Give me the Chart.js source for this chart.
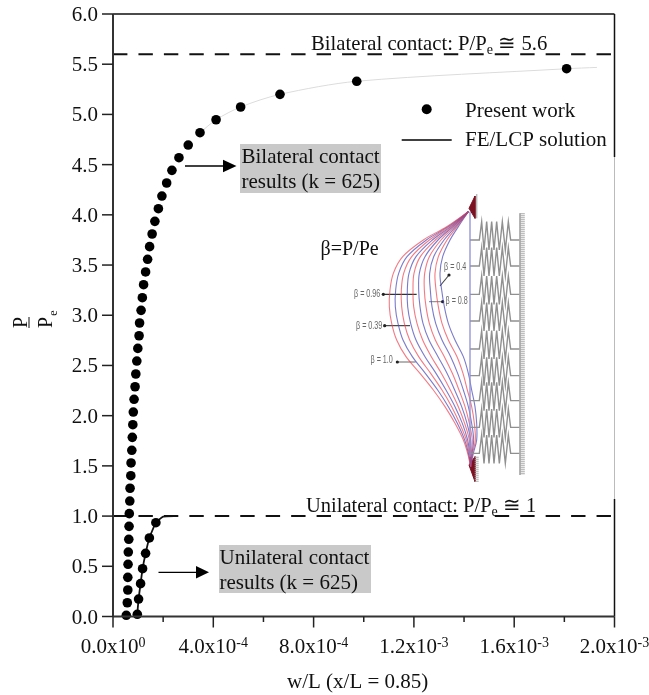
<!DOCTYPE html>
<html><head><meta charset="utf-8">
<style>html,body{margin:0;padding:0;background:#fff}canvas{display:block}</style>
<script src="https://cdn.jsdelivr.net/npm/chart.js@4"></script></head>
<body><canvas id="c" width="649" height="695"></canvas>
<script>
// ---- main chart data
const xTickLabels = ["0.0x10^0","","4.0x10^-4","","8.0x10^-4","","1.2x10^-3","","1.6x10^-3","","2.0x10^-3"];
const yTickLabels = ["0.0","0.5","1.0","1.5","2.0","2.5","3.0","3.5","4.0","4.5","5.0","5.5","6.0"];
const bilateralX = [5.3e-5,5.7e-5,5.9e-5,5.9e-5,6.0e-5,6.1e-5,6.3e-5,6.4e-5,6.5e-5,6.7e-5,6.8e-5,7.1e-5,7.2e-5,7.5e-5,7.7e-5,7.9e-5,8.1e-5,8.4e-5,8.8e-5,
  9.1e-5,9.5e-5,9.9e-5,1.04e-4,1.06e-4,1.12e-4,1.17e-4,1.22e-4,1.30e-4,1.38e-4,1.46e-4,1.56e-4,1.67e-4,1.81e-4,1.95e-4,2.14e-4,2.35e-4,2.63e-4,3.00e-4,3.47e-4,
  4.11e-4,5.09e-4,6.66e-4,9.72e-4,1.809e-3];
const bilateralY = [0.012,0.137,0.264,0.390,0.520,0.642,0.769,0.898,1.024,1.150,1.277,1.402,1.529,1.655,1.784,1.910,2.036,2.163,2.288,
  2.415,2.544,2.670,2.796,2.923,3.049,3.175,3.304,3.431,3.557,3.683,3.809,3.935,4.061,4.187,4.317,4.443,4.569,4.695,4.818,
  4.947,5.074,5.200,5.330,5.455];
const unilateralX = [9.7e-5,1.02e-4,1.10e-4,1.18e-4,1.30e-4,1.45e-4,1.71e-4];
const unilateralY = [0.022,0.174,0.327,0.476,0.629,0.782,0.934];
const feBilateralX = [3.47e-4,4.11e-4,5.09e-4,6.66e-4,9.72e-4,1.809e-3,1.93e-3];
const feBilateralY = [4.818,4.947,5.074,5.200,5.330,5.455,5.468];
const feUnilateralX = [9.6e-5,1.02e-4,1.10e-4,1.18e-4,1.30e-4,1.45e-4,1.71e-4,2.0e-4,2.54e-4];
const feUnilateralY = [0.0,0.174,0.327,0.476,0.629,0.782,0.934,0.994,1.0];
const bilateralLimit = 5.6, unilateralLimit = 1.0;

// ---- inset figure (in the figure's own units)
const insetLevels = [65,110,150,200,250,300,350,400,450,500,550,600,650,700,750,790,830];
const insetCurves = [
 [505,440,370,308,280,270,268,275,290,318,360,400,435,465,490,503,512],
 [505,444,379,321,296,287,286,294,309,337,376,413,445,472,494,505,512],
 [505,448,388,335,311,304,305,313,329,356,392,426,455,479,499,507,512],
 [505,452,397,348,327,322,323,332,348,375,408,438,465,487,503,509,512],
 [505,456,406,361,342,339,341,351,368,394,424,451,475,494,508,510,512],
 [505,459,414,375,358,356,360,369,387,414,441,464,485,501,512,512,512],
 [505,463,423,388,374,373,378,388,406,433,457,477,495,508,517,514,512],
 [505,467,432,401,389,391,396,407,426,452,473,490,505,515,521,516,512],
 [505,471,441,415,405,408,415,426,445,471,489,502,515,523,526,518,512],
 [505,475,450,428,420,425,433,445,465,490,505,515,525,530,530,520,512]];
const springRows = [150,228,313,393,477,557,632,712,790];
const springX = [510,538,545,552,560,567,575,582,590,598,607,616,625,632,660];
const springDy = [0,0,-55,30,-55,30,-55,30,-55,30,-55,30,-55,0,0];
const leaders = [[[350,313],[250,313]],[[330,407],[254,407]],[[347,516],[292,516]],[[387,335],[428,335]],[[420,288],[447,255]]];
const leaderColors = ['#333','#333','#777','#888','#444'];

const pts = (xs,ys)=>xs.map((x,i)=>({x,y:ys[i]}));
const insetDs = (data,color,width,extra)=>Object.assign({type:'line',data,xAxisID:'insetX',yAxisID:'insetY',borderColor:color,backgroundColor:color,borderWidth:width,pointRadius:0,fill:false,order:10,clip:false},extra||{});

const datasets = [];
// wall, beam, springs
datasets.push(insetDs(pts([667,667],[70,855]),'#a8a8a8',5,{borderDash:[1,1]}));
datasets.push(insetDs(pts([660,660],[70,855]),'#aaa',1));
datasets.push(insetDs(pts([530,530],[12,85]),'#bbb',1.5));
datasets.push(insetDs(pts([530,530],[800,875]),'#aaa',4,{borderDash:[1,1]}));
datasets.push(insetDs(pts([510,510],[65,800]),'#8f8fd6',1.3));
springRows.forEach(r=>datasets.push(insetDs(pts(springX,springDy.map(d=>r+d)),'#909090',1.4)));
insetCurves.forEach((c,i)=>datasets.push(insetDs(pts(c,insetLevels),i%2?'rgba(70,70,185,.72)':'rgba(238,70,85,.72)',1.1,{tension:.35})));
// pin triangles
datasets.push(insetDs(pts([525,525,507,525],[18,85,55,18]),'#7a1020',1,{fill:'shape'}));
datasets.push(insetDs(pts([525,525,507,525],[800,875,825,800]),'#7a1020',1,{fill:'shape'}));
leaders.forEach((l,i)=>datasets.push(insetDs(l.map(p=>({x:p[0],y:p[1]})),leaderColors[i],1.1,{pointRadius:[0,1.6],pointBackgroundColor:'#222',pointBorderWidth:0})));
// main marks
const mainDs = (data,extra)=>Object.assign({type:'line',data,xAxisID:'x',yAxisID:'y',fill:false,pointRadius:0,borderWidth:1,clip:false},extra);
datasets.push(mainDs(pts([0,2e-3],[bilateralLimit,bilateralLimit]),{label:'Bilateral limit',borderColor:'#111',borderWidth:2,borderDash:[14.4,11.05],order:5}));
datasets.push(mainDs(pts([0,2e-3],[unilateralLimit,unilateralLimit]),{label:'Unilateral limit',borderColor:'#111',borderWidth:2,borderDash:[14.4,11.05],order:5}));
datasets.push(mainDs(pts(feBilateralX,feBilateralY),{label:'FE/LCP solution',borderColor:'#dcdcdc',borderWidth:1,tension:.3,order:4}));
datasets.push(mainDs(pts(feUnilateralX,feUnilateralY),{label:'FE/LCP solution',borderColor:'#111',borderWidth:1.8,tension:.15,order:3}));
datasets.push(mainDs(pts(bilateralX,bilateralY),{label:'Present work',showLine:false,pointRadius:4.8,pointBackgroundColor:'#000',pointBorderWidth:0,order:1}));
datasets.push(mainDs(pts(unilateralX,unilateralY),{label:'Present work',showLine:false,pointRadius:4.8,pointBackgroundColor:'#000',pointBorderWidth:0,order:1}));

const SERIF = '"Liberation Serif"';
function sub(ctx,x,y,parts,size){ // parts: [text, isSub]
  ctx.textAlign='left';ctx.textBaseline='alphabetic';
  parts.forEach(([t,s])=>{
    ctx.font=(s?size*0.68:size)+'px '+SERIF;
    ctx.fillText(t,x,y+(s?4:0));
    x+=ctx.measureText(t).width;
  });
}
const overlay = {
  id:'overlay',
  beforeDraw(chart){
    const ys=chart.scales.y, xs=chart.scales.x;
    // y labels sit slightly lower than the canvas "middle" baseline
    if(!ys._patched){
      const orig=ys.drawLabels.bind(ys);
      ys.drawLabels=function(a){const c=chart.ctx;c.save();c.translate(0,1.5);orig(a);c.restore();};
      ys._patched=true;
    }
    // x labels carry a raised exponent
    if(!xs._patched){
      xs.drawLabels=function(){
        const c=chart.ctx;c.save();c.fillStyle='#111';c.textBaseline='alphabetic';c.textAlign='left';
        xs.ticks.forEach((t,i)=>{
          if(!t.label) return;
          const [base,exp]=String(t.label).split('^');
          c.font='21px '+SERIF;const wb=c.measureText(base).width;
          c.font='14px '+SERIF;const we=c.measureText(exp).width;
          const left=xs.getPixelForTick(i)-(wb+we)/2;
          c.font='21px '+SERIF;c.fillText(base,left,653);
          c.font='14px '+SERIF;c.fillText(exp,left+wb,647);
        });
        c.restore();
      };
      xs._patched=true;
    }
  },
  afterDatasetsDraw(chart){
    const c=chart.ctx,a=chart.chartArea,sx=chart.scales.x,sy=chart.scales.y;
    c.save();
    // frame
    c.strokeStyle='#111';c.lineWidth=1.5;
    c.beginPath();c.moveTo(a.left,a.top);c.lineTo(a.right,a.top);c.moveTo(a.right,a.top);c.lineTo(a.right,157);c.stroke();
    c.beginPath();c.moveTo(a.right,499);c.lineTo(a.right,a.bottom);c.stroke();
    c.strokeStyle='#bbb';c.lineWidth=1;c.beginPath();c.moveTo(a.right,157);c.lineTo(a.right,499);c.stroke();
    // axis lines + ticks
    c.strokeStyle='#333';c.lineWidth=2;
    c.beginPath();c.moveTo(a.left,a.top);c.lineTo(a.left,a.bottom);c.moveTo(a.left,a.bottom);c.lineTo(a.right,a.bottom);c.stroke();
    c.lineWidth=1.5;c.strokeStyle='#222';
    sx.ticks.forEach((t,i)=>{const p=sx.getPixelForTick(i);c.beginPath();c.moveTo(p,a.bottom);c.lineTo(p,a.bottom+(i%2?5.5:11));c.stroke();});
    sy.ticks.forEach((t,i)=>{const p=sy.getPixelForTick(i);c.beginPath();c.moveTo(a.left,p);c.lineTo(a.left-11,p);c.stroke();});
    // grey note boxes
    c.fillStyle='#c9c9c9';c.fillRect(240,144,141,49);c.fillRect(219,545,152,48);
    c.fillStyle='#111';
    c.font='21px '+SERIF;c.textAlign='left';c.textBaseline='alphabetic';
    c.fillText('Bilateral contact',241.5,163);c.fillText('results (k = 625)',241.5,188);
    c.fillText('Unilateral contact',219.5,564);c.fillText('results (k = 625)',219.5,589);
    // arrows
    [[185,166,223,236.5],[158.5,572.3,196,209]].forEach(([x0,y,b,t])=>{
      c.strokeStyle='#000';c.lineWidth=1.3;c.beginPath();c.moveTo(x0,y);c.lineTo(b,y);c.stroke();
      c.beginPath();c.moveTo(b,y-6.3);c.lineTo(t,y);c.lineTo(b,y+6.3);c.closePath();c.fillStyle='#000';c.fill();
    });
    c.fillStyle='#111';
    // limit captions
    sub(c,311,50,[['Bilateral contact: P/P',0],['e',1],[' ≅ 5.6',0]],20.7);
    sub(c,306,512,[['Unilateral contact: P/P',0],['e',1],[' ≅ 1',0]],20.5);
    // legend
    c.fillStyle='#000';c.beginPath();c.arc(426.7,109.3,5,0,7);c.fill();
    c.strokeStyle='#000';c.lineWidth=1.5;c.beginPath();c.moveTo(401.7,140);c.lineTo(451.7,140);c.stroke();
    c.fillStyle='#111';c.font='21px '+SERIF;c.textAlign='left';
    c.fillText('Present work',465,116.5);c.fillText('FE/LCP solution',465,146);
    // x title
    c.fillText('w/L (x/L = 0.85)',287,688);
    // inset labels
    c.font='20px '+SERIF;c.fillText('β=P/Pe',320.5,255);
    c.fillStyle='#666';c.font='10px "Liberation Sans"';
    [['β = 0.96',354,296.5],['β = 0.39',356,329],['β = 1.0',370.5,363],['β = 0.4',444,270],['β = 0.8',445.5,303.5]].forEach(([t,x,y])=>{
      c.save();c.translate(x,y);c.scale(.72,1);c.fillText(t,0,0);c.restore();
    });
    // y title as a rotated fraction
    c.fillStyle='#111';c.save();c.translate(0,322.5);c.rotate(-Math.PI/2);c.textAlign='center';
    c.font='20px '+SERIF;c.fillText('P',0,27);c.fillText('P',0,52);
    c.font='12px '+SERIF;c.fillText('e',9.5,57);
    c.fillRect(-5.5,28.5,11,1);
    c.restore();
    c.restore();
  }
};
new Chart(document.getElementById('c'),{
  type:'line',
  data:{datasets},
  options:{
    responsive:false,animation:false,
    layout:{padding:{left:0,top:14,right:34.5,bottom:0}},
    plugins:{legend:{display:false},tooltip:{enabled:false}},
    scales:{
      x:{type:'linear',min:0,max:2e-3,position:'bottom',
        grid:{display:false,drawTicks:false},border:{display:false},
        ticks:{stepSize:2e-4,autoSkip:false,maxRotation:0,minRotation:0,padding:17.5,color:'#111',font:{family:SERIF,size:21},callback:(v,i)=>xTickLabels[i]},
        afterFit(s){s.height=78.5;s.paddingLeft=0;s.paddingRight=0;}},
      y:{type:'linear',min:0,max:6,position:'left',
        grid:{display:false,drawTicks:false},border:{display:false},
        ticks:{stepSize:.5,autoSkip:false,padding:15,color:'#111',font:{family:SERIF,size:21},callback:(v,i)=>yTickLabels[i]},
        afterFit(s){s.width=113;s.paddingTop=0;s.paddingBottom=0;}},
      insetX:{type:'linear',display:false,min:-561,max:943.5,position:'bottom'},
      insetY:{type:'linear',display:false,min:-528,max:1279.5,reverse:true,position:'left'}
    }
  },
  plugins:[overlay]
});
</script></body></html>
